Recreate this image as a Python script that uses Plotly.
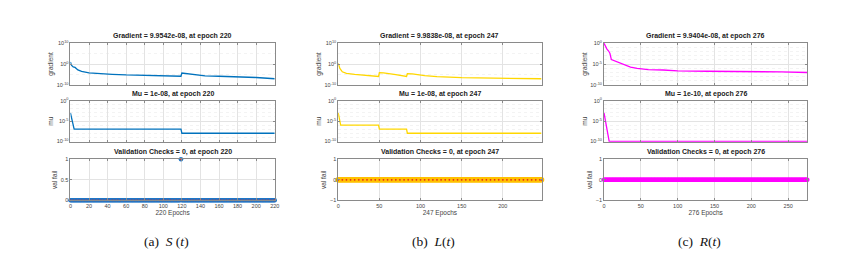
import plotly.graph_objects as go

# ---------------- data ----------------
# Panel (a) S(t)
grad_a_epochs = [0, 1, 3, 5, 8, 12, 20, 30, 45, 60, 80, 100, 119, 120, 125, 135, 145, 160, 180, 200, 220]
grad_a_log    = [1.0, -0.5, -1.4, -1.6, -2.8, -3.5, -4.2, -4.6, -4.9, -5.2, -5.4, -5.5, -5.8, -4.3, -4.5, -5.1, -5.6, -5.8, -6.0, -6.4, -7.0]
mu_a_epochs = [0, 1, 2, 3, 4, 119, 120, 220]
mu_a_vals   = [1e-3, 1e-4, 1e-5, 1e-6, 1e-7, 1e-7, 1e-8, 1e-8]
val_a = [0] * 119 + [1] + [0] * 101

# Panel (b) L(t)
grad_b_epochs = [0, 2, 5, 10, 20, 35, 49, 50, 55, 70, 83, 84, 90, 105, 120, 150, 200, 247]
grad_b_log    = [0.3, -2.1, -3.7, -4.4, -4.9, -5.4, -5.9, -4.1, -4.2, -5.0, -5.9, -4.6, -4.7, -5.5, -6.0, -6.5, -6.8, -7.0]
mu_b_epochs = [0, 1, 2, 3, 49, 50, 83, 84, 247]
mu_b_vals   = [1e-3, 1e-4, 1e-5, 1e-6, 1e-6, 1e-7, 1e-7, 1e-8, 1e-8]
val_b = [0] * 248

# Panel (c) R(t)
grad_c_epochs = [0, 2, 4, 6, 8, 10, 14, 20, 28, 36, 45, 60, 80, 100, 140, 200, 240, 276]
grad_c_log    = [0.0, -0.8, -1.4, -1.8, -2.4, -3.9, -4.2, -4.6, -5.2, -5.7, -6.0, -6.3, -6.4, -6.6, -6.7, -6.75, -6.85, -7.0]
mu_c_epochs = [0, 1, 2, 3, 4, 5, 6, 7, 276]
mu_c_vals   = [1e-3, 1e-4, 1e-5, 1e-6, 1e-7, 1e-8, 1e-9, 1e-10, 1e-10]
val_c = [0] * 277

titles_grad = ["Gradient = 9.9542e-08, at epoch 220",
               "Gradient = 9.9838e-08, at epoch 247",
               "Gradient = 9.9404e-08, at epoch 276"]
titles_mu = ["Mu = 1e-08, at epoch 220", "Mu = 1e-08, at epoch 247", "Mu = 1e-10, at epoch 276"]
titles_val = ["Validation Checks = 0, at epoch 220",
              "Validation Checks = 0, at epoch 247",
              "Validation Checks = 0, at epoch 276"]
epoch_labels = ["220 Epochs", "247 Epochs", "276 Epochs"]
captions = ["(a)  <i>S</i> (<i>t</i>)", "(b)  <i>L</i>(<i>t</i>)", "(c)  <i>R</i>(<i>t</i>)"]
n_epochs = [220, 247, 276]
xticks = [list(range(0, 221, 20)), [0, 50, 100, 150, 200], [0, 50, 100, 150, 200, 250]]

# ---------------- layout geometry ----------------
W, H = 851, 259
FONT = "Liberation Sans"
colors = ["#0072BD", "#FFD700", "#FF00FF"]
val_colors = ["#1f77c8", "#FFC000", "#FF00FF"]
xpix = [(69, 275), (339, 544), (607, 812)]
ypix = [(41, 84), (100, 142), (160, 202)]

def fx(p):
    return p / W

def fy(p):
    return 1 - p / H

fig = go.Figure()
layout = dict(width=W, height=H, margin=dict(l=0, r=0, t=0, b=0),
              paper_bgcolor="white", plot_bgcolor="white", showlegend=False,
              font=dict(family=FONT, size=6, color="#333"))
annotations = []

grads = [(grad_a_epochs, grad_a_log), (grad_b_epochs, grad_b_log), (grad_c_epochs, grad_c_log)]
mus = [(mu_a_epochs, mu_a_vals), (mu_b_epochs, mu_b_vals), (mu_c_epochs, mu_c_vals)]
vals = [val_a, val_b, val_c]

axis_common = dict(showline=True, linecolor="#8a8a8a", linewidth=0.8, mirror="ticks",
                   ticks="inside", ticklen=2, tickcolor="#8a8a8a",
                   showgrid=True, gridcolor="#e3e3e3", gridwidth=0.6, zeroline=False,
                   tickfont=dict(size=5.5, color="#444"))
minor_log = dict(showgrid=True, gridcolor="#f3f3f3", griddash="dot", ticks="")

for p in range(3):
    x0, x1 = xpix[p]
    for r in range(3):
        idx = p * 3 + r + 1
        xa, ya = f"xaxis{idx}", f"yaxis{idx}"
        xr, yr = f"x{idx}", f"y{idx}"
        y0, y1 = ypix[r]
        xd = dict(axis_common, domain=[fx(x0), fx(x1)], anchor=yr,
                  range=[0, n_epochs[p]], tickvals=xticks[p],
                  showticklabels=(r == 2))
        if r == 2:
            xd["title"] = dict(text=epoch_labels[p], font=dict(size=6.5, color="#444"), standoff=2)
        yd = dict(axis_common, domain=[fy(y1), fy(y0)], anchor=xr)
        if r == 0:
            ex, lg = grads[p]
            gvals = [10 ** v for v in lg]
            fig.add_trace(go.Scatter(x=ex, y=gvals, mode="lines", xaxis=xr, yaxis=yr,
                                     line=dict(color=colors[p], width=1.3)))
            if p < 2:
                yd.update(type="log", range=[-10, 10], tickvals=[1e-10, 1, 1e10],
                          ticktext=["10<sup>-10</sup>", "10<sup>0</sup>", "10<sup>10</sup>"],
                          minor=dict(minor_log, tickvals=[1e-5, 1e5]))
            else:
                yd.update(type="log", range=[-10, 0.05], tickvals=[1e-10, 1e-5, 1],
                          ticktext=["10<sup>-10</sup>", "10<sup>-5</sup>", "10<sup>0</sup>"],
                          minor=dict(minor_log, tickvals=[10 ** -k for k in [1, 2, 3, 4, 6, 7, 8, 9]]))
            yd["title"] = dict(text="gradient", font=dict(size=6.5, color="#444"), standoff=2)
            ttl = titles_grad[p]
        elif r == 1:
            ex, mv = mus[p]
            fig.add_trace(go.Scatter(x=ex, y=mv, mode="lines", xaxis=xr, yaxis=yr,
                                     line=dict(color=colors[p], width=1.3)))
            yd.update(type="log", range=[-10.08, 0], tickvals=[1e-10, 1e-5, 1],
                      ticktext=["10<sup>-10</sup>", "10<sup>-5</sup>", "10<sup>0</sup>"],
                      minor=dict(minor_log, tickvals=[10 ** -k for k in [1, 2, 3, 4, 6, 7, 8, 9]]))
            yd["title"] = dict(text="mu", font=dict(size=6.5, color="#444"), standoff=2)
            ttl = titles_mu[p]
        else:
            v = vals[p]
            ep = list(range(len(v)))
            fig.add_trace(go.Scatter(x=ep, y=v, mode="markers", xaxis=xr, yaxis=yr, cliponaxis=False,
                                     marker=dict(color=val_colors[p], size=4.5 if p != 1 else 5.5,
                                                 line=dict(width=0))))
            if p < 2:
                step = 3 if p == 0 else 5
                re = sorted(set(ep[::step] + [i for i in ep if v[i] != 0] + [ep[-1]]))
                rv = [v[i] for i in re]
                fig.add_trace(go.Scatter(x=re, y=rv, mode="markers", xaxis=xr, yaxis=yr, cliponaxis=False,
                                         marker=dict(color="#e8231b", size=1.8, line=dict(width=0))))
            if p == 0:
                yd.update(range=[0, 1], tickvals=[0, 0.5, 1])
            else:
                yd.update(range=[-1, 1], tickvals=[-1, 0, 1])
            yd["title"] = dict(text="val fail", font=dict(size=6.5, color="#444"), standoff=2)
            ttl = titles_val[p]
        layout[xa] = xd
        layout[ya] = yd
        annotations.append(dict(text=f"<b>{ttl}</b>", x=fx((x0 + x1) / 2), y=fy(y0 - 1),
                                xref="paper", yref="paper", xanchor="center", yanchor="bottom",
                                showarrow=False, font=dict(family=FONT, size=7, color="#222")))
    annotations.append(dict(text=captions[p], x=fx((x0 + x1) / 2 - 6), y=fy(244),
                            xref="paper", yref="paper", xanchor="center", yanchor="middle",
                            showarrow=False, font=dict(family="Liberation Serif", size=13.5, color="#111")))

layout["annotations"] = annotations
fig.update_layout(**layout)
fig.write_html("out.html", config={"displayModeBar": False},
               post_script="document.body.style.margin='0';document.body.style.overflow='hidden';")
